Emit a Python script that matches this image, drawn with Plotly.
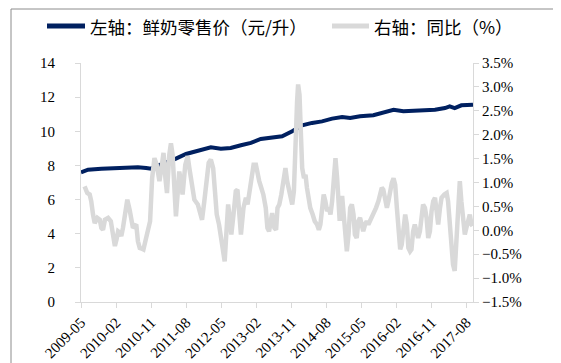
import plotly.graph_objects as go

# ---------------- data ----------------
price_dates = [
    "2009-05-01", "2009-06-25", "2009-10-07", "2010-02-15", "2010-05-03", "2010-07-20", "2010-09-22", "2010-10-31", "2010-12-09", "2011-01-31",
    "2011-03-22", "2011-05-13", "2011-07-31", "2011-10-17", "2011-12-25", "2012-02-10", "2012-04-28", "2012-07-14", "2012-10-02", "2012-12-19",
    "2013-03-06", "2013-05-23", "2013-08-20", "2013-11-07", "2014-01-24", "2014-04-11", "2014-06-28", "2014-09-15", "2014-12-02", "2015-02-03",
    "2015-04-21", "2015-08-03", "2015-10-20", "2016-01-08", "2016-03-25", "2016-08-13", "2016-11-27", "2017-02-13", "2017-03-22", "2017-04-30",
    "2017-06-21", "2017-09-20",
]
price_values = [
    7.60, 7.75, 7.81, 7.85, 7.89, 7.89, 7.85, 7.81, 7.95, 8.09,
    8.25, 8.40, 8.67, 8.83, 8.92, 9.06, 8.98, 9.02, 9.18, 9.32,
    9.55, 9.65, 9.71, 10.00, 10.35, 10.49, 10.58, 10.74, 10.84, 10.78,
    10.88, 10.94, 11.07, 11.26, 11.17, 11.20, 11.26, 11.36, 11.46, 11.36,
    11.52, 11.56,
]

yoy_dates = [
    "2009-05-29", "2009-06-19", "2009-07-08", "2009-07-20", "2009-08-03", "2009-08-16", "2009-09-06", "2009-09-25", "2009-10-07", "2009-10-20",
    "2009-11-04", "2009-11-29", "2009-12-20", "2010-01-08", "2010-01-21", "2010-02-03", "2010-02-15", "2010-03-01", "2010-03-12", "2010-03-25",
    "2010-04-12", "2010-04-28", "2010-05-16", "2010-05-29", "2010-06-11", "2010-06-24", "2010-07-07", "2010-07-20", "2010-08-03", "2010-08-17",
    "2010-09-01", "2010-09-16", "2010-10-05", "2010-10-23", "2010-11-08", "2010-11-26", "2010-12-14", "2011-01-04", "2011-01-20", "2011-02-05",
    "2011-02-20", "2011-03-04", "2011-03-22", "2011-04-04", "2011-04-17", "2011-04-30", "2011-05-13", "2011-05-26", "2011-06-08", "2011-06-21",
    "2011-07-04", "2011-07-25", "2011-08-13", "2011-08-26", "2011-09-16", "2011-10-04", "2011-10-31", "2011-11-18", "2011-12-03", "2011-12-21",
    "2012-01-10", "2012-01-24", "2012-02-10", "2012-02-28", "2012-03-11", "2012-03-27", "2012-04-14", "2012-05-02", "2012-05-17", "2012-05-28",
    "2012-06-08", "2012-06-24", "2012-07-07", "2012-07-19", "2012-08-05", "2012-08-23", "2012-09-05", "2012-09-18", "2012-10-02", "2012-10-22",
    "2012-11-10", "2012-11-23", "2012-12-05", "2012-12-24", "2013-01-09", "2013-01-27", "2013-02-10", "2013-02-22", "2013-03-10", "2013-03-26",
    "2013-04-14", "2013-04-27", "2013-05-10", "2013-05-23", "2013-06-03", "2013-06-21", "2013-07-04", "2013-07-15", "2013-07-29", "2013-08-14",
    "2013-09-03", "2013-09-15", "2013-09-28", "2013-10-11", "2013-10-24", "2013-11-07", "2013-11-20", "2013-12-02", "2013-12-15", "2013-12-23",
    "2014-01-03", "2014-01-14", "2014-01-24", "2014-02-07", "2014-02-19", "2014-03-02", "2014-03-16", "2014-03-28", "2014-04-16", "2014-05-02",
    "2014-05-20", "2014-06-03", "2014-06-15", "2014-06-28", "2014-07-11", "2014-07-24", "2014-08-07", "2014-08-20", "2014-09-02", "2014-09-15",
    "2014-09-28", "2014-10-11", "2014-10-24", "2014-11-07", "2014-11-13", "2014-12-02", "2014-12-18", "2014-12-29", "2015-01-08", "2015-01-21",
    "2015-02-03", "2015-02-16", "2015-03-01", "2015-03-12", "2015-03-26", "2015-04-08", "2015-04-21", "2015-05-04", "2015-05-16", "2015-05-30",
    "2015-06-12", "2015-06-25", "2015-07-08", "2015-07-21", "2015-08-03", "2015-08-24", "2015-09-12", "2015-09-25", "2015-10-08", "2015-10-20",
    "2015-11-04", "2015-11-17", "2015-11-29", "2015-12-12", "2015-12-25", "2016-01-08", "2016-01-21", "2016-02-03", "2016-02-16", "2016-02-29",
    "2016-03-12", "2016-03-25", "2016-04-08", "2016-04-21", "2016-05-03", "2016-05-16", "2016-05-27", "2016-06-09", "2016-06-22", "2016-07-05",
    "2016-07-18", "2016-08-01", "2016-08-13", "2016-08-26", "2016-09-09", "2016-09-22", "2016-10-05", "2016-10-18", "2016-10-31", "2016-11-13",
    "2016-11-27", "2016-12-09", "2016-12-22", "2017-01-05", "2017-01-17", "2017-02-08", "2017-02-26", "2017-03-09", "2017-03-22", "2017-04-04",
    "2017-04-17", "2017-04-30", "2017-05-13", "2017-05-26", "2017-06-09", "2017-06-21", "2017-07-05", "2017-07-18", "2017-07-30", "2017-08-13",
    "2017-08-26", "2017-09-08", "2017-09-16",
]
yoy_values = [
    0.92, 0.78, 0.75, 0.61, 0.33, 0.15, 0.26, 0.22, 0.05, 0.01,
    0.22, 0.26, 0.19, -0.09, -0.33, -0.19, -0.02, -0.05, -0.12, 0.05,
    0.47, 0.64, 0.43, 0.19, 0.05, 0.09, 0.12, -0.23, -0.37, -0.38,
    -0.40, -0.23, -0.02, 0.19, 1.09, 1.51, 1.37, 1.03, 1.30, 1.62,
    1.09, 0.78, 1.58, 1.82, 1.58, 0.89, 0.29, 0.75, 1.23, 1.03,
    0.75, 1.37, 1.55, 1.30, 0.89, 0.64, 0.54, 0.33, 0.22, 0.61,
    1.09, 1.41, 1.48, 1.30, 0.89, 0.33, 0.12, -0.23, -0.51, -0.65,
    -0.16, 0.54, 0.26, -0.09, 0.33, 0.82, 0.85, 0.47, -0.09, 0.47,
    0.68, 0.54, 0.75, 1.09, 1.37, 1.37, 1.16, 1.03, 0.89, 0.75,
    0.47, 0.05, -0.02, 0.19, 0.36, 0.05, 0.01, 0.47, 0.54, 0.75,
    1.09, 1.30, 1.03, 0.89, 0.75, 0.54, 0.82, 2.00, 2.70, 3.05,
    2.83, 2.00, 1.30, 1.09, 1.16, 0.89, 0.61, 0.47, 0.33, 0.19,
    0.12, 0.01, 0.12, 0.54, 0.75, 0.61, 0.40, 0.47, 0.33, 0.61,
    1.16, 1.51, 1.09, 0.47, 0.20, 0.72, 0.26, -0.26, -0.44, -0.09,
    0.47, 0.54, 0.33, -0.09, -0.16, 0.19, 0.26, 0.12, -0.02, 0.12,
    0.19, 0.12, 0.19, 0.26, 0.33, 0.47, 0.61, 0.75, 0.89, 0.85,
    0.64, 0.47, 0.61, 0.82, 0.99, 1.09, 0.95, 0.47, -0.09, -0.40,
    -0.30, 0.05, 0.33, 0.12, -0.37, -0.44, -0.40, -0.02, 0.12, -0.02,
    -0.16, -0.02, 0.33, 0.54, 0.47, 0.26, -0.16, -0.02, 0.40, 0.61,
    0.68, 0.33, 0.12, 0.47, 0.68, 0.75, 0.78, 0.61, 0.12, -0.37,
    -0.72, -0.85, -0.23, 0.75, 1.03, 0.61, 0.12, -0.09, 0.05, 0.26,
    0.33, 0.12, 0.09,
]

x_tick_labels = ["2009-05", "2010-02", "2010-11", "2011-08", "2012-05", "2013-02",
                 "2013-11", "2014-08", "2015-05", "2016-02", "2016-11", "2017-08"]
x_range = ["2009-05-01", "2017-09-20"]

price_name = "左轴：鲜奶零售价（元/升）"
yoy_name = "右轴：同比（%）"

# ---------------- layout constants ----------------
W, H = 561, 363
ML, MR, MT, MB = 73, 96, 55, 69
PW = W - ML - MR
PH = H - MT - MB

def px_x(p):
    return (p - ML) / PW

def px_y(p):
    return (H - MB - p) / PH

AXIS_COLOR = "#d9d9d9"
PRICE_COLOR = "#002060"
YOY_COLOR = "#d9d9d9"
TICK_FONT = dict(family="Liberation Serif", size=15, color="#000000")
LEGEND_FONT = dict(family="Noto Sans CJK SC", size=17.5, color="#000000")

fig = go.Figure()
fig.add_trace(go.Scatter(
    x=price_dates, y=price_values, name=price_name, mode="lines",
    line=dict(color=PRICE_COLOR, width=4), yaxis="y", showlegend=False,
))
fig.add_trace(go.Scatter(
    x=yoy_dates, y=yoy_values, name=yoy_name, mode="lines",
    line=dict(color=YOY_COLOR, width=4.5), yaxis="y2", showlegend=False,
))

# legend drawn as line samples + text
LEG_Y = 18
legend_items = [(price_name, PRICE_COLOR, 39, 77), (yoy_name, YOY_COLOR, 324, 361)]
shapes = []
annotations = []
for name, color, x0, x1 in legend_items:
    shapes.append(dict(type="line", xref="paper", yref="paper",
                       x0=px_x(x0), x1=px_x(x1), y0=px_y(LEG_Y), y1=px_y(LEG_Y),
                       line=dict(color=color, width=5)))
    annotations.append(dict(xref="paper", yref="paper", x=px_x(x1 + 3), y=px_y(LEG_Y),
                            xanchor="left", yanchor="middle", showarrow=False,
                            text=name, font=LEGEND_FONT))

shapes.append(dict(
    type="rect", xref="paper", yref="paper", layer="above",
    x0=px_x(3), x1=px_x(558), y0=px_y(357), y1=px_y(1),
    line=dict(color="#8c8c8c", width=1), fillcolor="rgba(0,0,0,0)",
))

fig.update_layout(
    width=W, height=H,
    margin=dict(l=ML, r=MR, t=MT, b=MB, pad=0, autoexpand=False),
    paper_bgcolor="white", plot_bgcolor="white",
    showlegend=False,
    xaxis=dict(
        type="date", range=x_range, automargin=False,
        tickvals=[t + "-01" for t in x_tick_labels], ticktext=x_tick_labels,
        tickangle=-45, tickfont=TICK_FONT,
        showgrid=False, zeroline=False,
        showline=True, linecolor=AXIS_COLOR, linewidth=1,
        ticks="outside", ticklen=5, tickcolor=AXIS_COLOR,
    ),
    yaxis=dict(
        range=[0, 14], dtick=2, tick0=0, tickfont=TICK_FONT, automargin=False,
        showgrid=False, zeroline=False,
        showline=True, linecolor=AXIS_COLOR, linewidth=1,
        ticks="outside", ticklen=5, tickcolor=AXIS_COLOR,
        ticklabelstandoff=17,
    ),
    yaxis2=dict(
        range=[-1.5, 3.5], dtick=0.5, tick0=-1.5, tickformat=".1f", ticksuffix="%",
        overlaying="y", side="right", tickfont=TICK_FONT, automargin=False,
        showgrid=False, zeroline=False,
        showline=True, linecolor=AXIS_COLOR, linewidth=1,
        ticks="outside", ticklen=5, tickcolor=AXIS_COLOR,
        ticklabelstandoff=0,
    ),
    shapes=shapes,
    annotations=annotations,
)

fig.write_html("out.html")
